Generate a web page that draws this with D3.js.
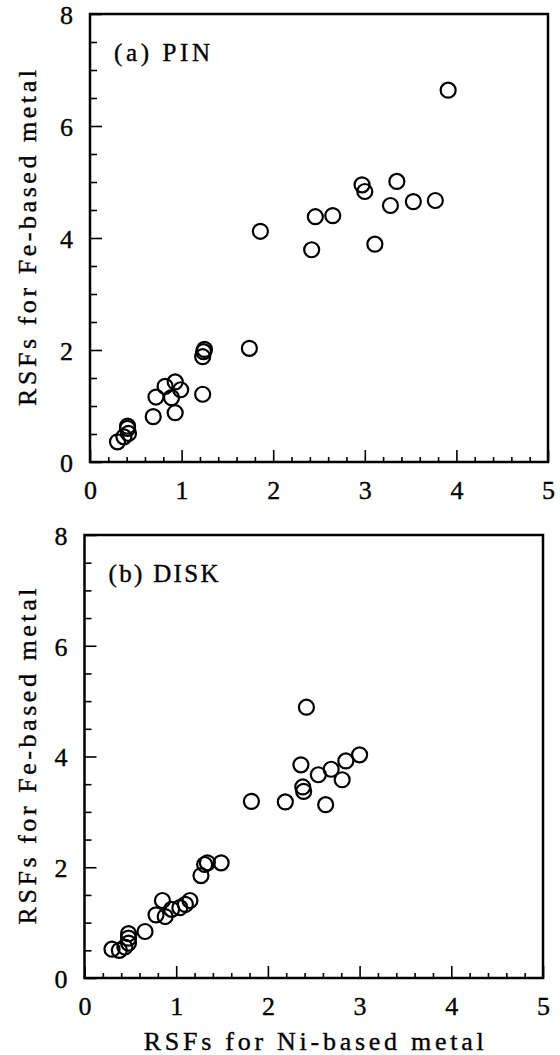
<!DOCTYPE html>
<html lang="en">
<head>
    <meta charset="UTF-8">
    <title>RSFs for Fe-based vs Ni-based metal</title>
    <script src="https://d3js.org/d3.v7.min.js"></script>
    <style>
        body { margin: 0; background: #fff; }
        svg { display: block; }
        .frame { fill: none; stroke: #000; stroke-width: 2.5; }
        .tick line { stroke: #000; stroke-width: 1.6; }
        .pt { fill: none; stroke: #000; stroke-width: 2.2; }
    </style>
</head>
<body>
<svg id="chart" width="560" height="1055"></svg>
<script>
    // (a) PIN : RSF values
    const pinNi = [3.91, 2.97, 3.00, 3.35, 3.28, 3.53, 3.77, 2.46, 2.65, 1.86, 2.42, 3.11,
                   1.74, 1.24, 1.25, 1.23, 1.23, 0.93, 0.99, 0.82, 0.89, 0.72, 0.93, 0.69,
                   0.41, 0.42, 0.37, 0.30, 0.41];
    const pinFe = [6.64, 4.95, 4.83, 5.01, 4.58, 4.65, 4.67, 4.38, 4.40, 4.12, 3.79, 3.89,
                   2.03, 1.97, 2.01, 1.88, 1.21, 1.43, 1.29, 1.35, 1.15, 1.16, 0.88, 0.81,
                   0.60, 0.51, 0.45, 0.36, 0.64];

    // (b) DISK
    const diskNi = [2.42, 3.00, 2.85, 2.69, 2.55, 2.36, 2.81, 2.38, 2.39, 1.82, 2.19, 2.63,
                    1.34, 1.31, 1.49, 1.27, 0.85, 1.15, 1.10, 1.04, 0.95, 0.78, 0.88, 0.66,
                    0.48, 0.48, 0.48, 0.44, 0.30, 0.38];
    const diskFe = [4.89, 4.03, 3.92, 3.77, 3.67, 3.85, 3.58, 3.45, 3.37, 3.19, 3.18, 3.13,
                    2.08, 2.05, 2.08, 1.85, 1.40, 1.40, 1.33, 1.27, 1.24, 1.14, 1.11, 0.84,
                    0.80, 0.72, 0.63, 0.56, 0.52, 0.50];

    const xMajor = [0, 1, 2, 3, 4, 5];
    const xMinor = [0.2, 0.4, 0.6, 0.8, 1.2, 1.4, 1.6, 1.8, 2.2, 2.4, 2.6, 2.8,
                    3.2, 3.4, 3.6, 3.8, 4.2, 4.4, 4.6, 4.8];
    const yMajor = [0, 2, 4, 6, 8];
    const yMinor = [0.5, 1, 1.5, 2.5, 3, 3.5, 4.5, 5, 5.5, 6.5, 7, 7.5];

    const xTitle = "RSFs for Ni-based metal";
    const yTitle = "RSFs for Fe-based metal";

    const serif = "'Liberation Serif', 'Times New Roman', 'DejaVu Serif', serif";
    const svg = d3.select("#chart");

    // slightly heavier serif look, like the scanned figure
    function textStyle(sel, size) {
        sel.style("font-family", serif)
            .style("font-size", size + "px")
            .style("fill", "#000")
            .style("stroke", "#000")
            .style("stroke-width", "0.35px");
    }

    function drawPanel(opt) {
        const x = d3.scaleLinear().domain([0, 5]).range([opt.left, opt.right]);
        const y = d3.scaleLinear().domain([0, 8]).range([opt.bottom, opt.top]);
        const g = svg.append("g");

        // minor ticks first, then major ticks with labels
        g.append("g")
            .attr("transform", `translate(0,${opt.bottom})`)
            .call(d3.axisBottom(x).tickValues(xMinor).tickSize(-5).tickFormat(""))
            .call(a => a.select(".domain").remove());
        g.append("g")
            .attr("transform", `translate(0,${opt.bottom})`)
            .call(d3.axisBottom(x).tickValues(xMajor).tickSize(-12).tickPadding(19).tickFormat(d3.format("d")))
            .call(a => a.select(".domain").remove())
            .call(a => a.selectAll(".tick text").call(textStyle, 26));

        g.append("g")
            .attr("transform", `translate(${opt.left},0)`)
            .call(d3.axisLeft(y).tickValues(yMinor).tickSize(-7).tickFormat(""))
            .call(a => a.select(".domain").remove());
        g.append("g")
            .attr("transform", `translate(${opt.left},0)`)
            .call(d3.axisLeft(y).tickValues(yMajor).tickSize(-12).tickPadding(17).tickFormat(d3.format("d")))
            .call(a => a.select(".domain").remove())
            .call(a => a.selectAll(".tick text").attr("dy", "0.36em").call(textStyle, 26));

        g.append("rect")
            .attr("class", "frame")
            .attr("x", opt.left).attr("y", opt.top)
            .attr("width", opt.right - opt.left)
            .attr("height", opt.bottom - opt.top);

        // points
        g.selectAll(".pt")
            .data(d3.zip(opt.xs, opt.ys))
            .enter().append("circle")
            .attr("class", "pt")
            .attr("cx", d => x(d[0]))
            .attr("cy", d => y(d[1]))
            .attr("r", 7.5);

        // panel label
        g.append("text")
            .attr("x", opt.left + 24)
            .attr("y", opt.top + 47)
            .attr("textLength", opt.tagLen)
            .attr("lengthAdjust", "spacing")
            .text(opt.tag)
            .call(textStyle, 25);

        // y title
        const cy = (opt.top + opt.bottom) / 2;
        g.append("text")
            .attr("transform", `translate(36,${cy}) rotate(-90)`)
            .attr("text-anchor", "middle")
            .attr("textLength", 336)
            .attr("lengthAdjust", "spacing")
            .text(yTitle)
            .call(textStyle, 26);

        if (opt.showXTitle) {
            g.append("text")
                .attr("x", (opt.left + opt.right) / 2)
                .attr("y", 1050)
                .attr("text-anchor", "middle")
                .attr("textLength", 340)
                .attr("lengthAdjust", "spacing")
                .text(xTitle)
                .call(textStyle, 26);
        }
    }

    drawPanel({ left: 90, right: 548, top: 14, bottom: 462,
                xs: pinNi, ys: pinFe, tag: "(a)  PIN", tagLen: 96, showXTitle: false });
    drawPanel({ left: 84.5, right: 543, top: 535, bottom: 978,
                xs: diskNi, ys: diskFe, tag: "(b)  DISK", tagLen: 110, showXTitle: true });
</script>
</body>
</html>
